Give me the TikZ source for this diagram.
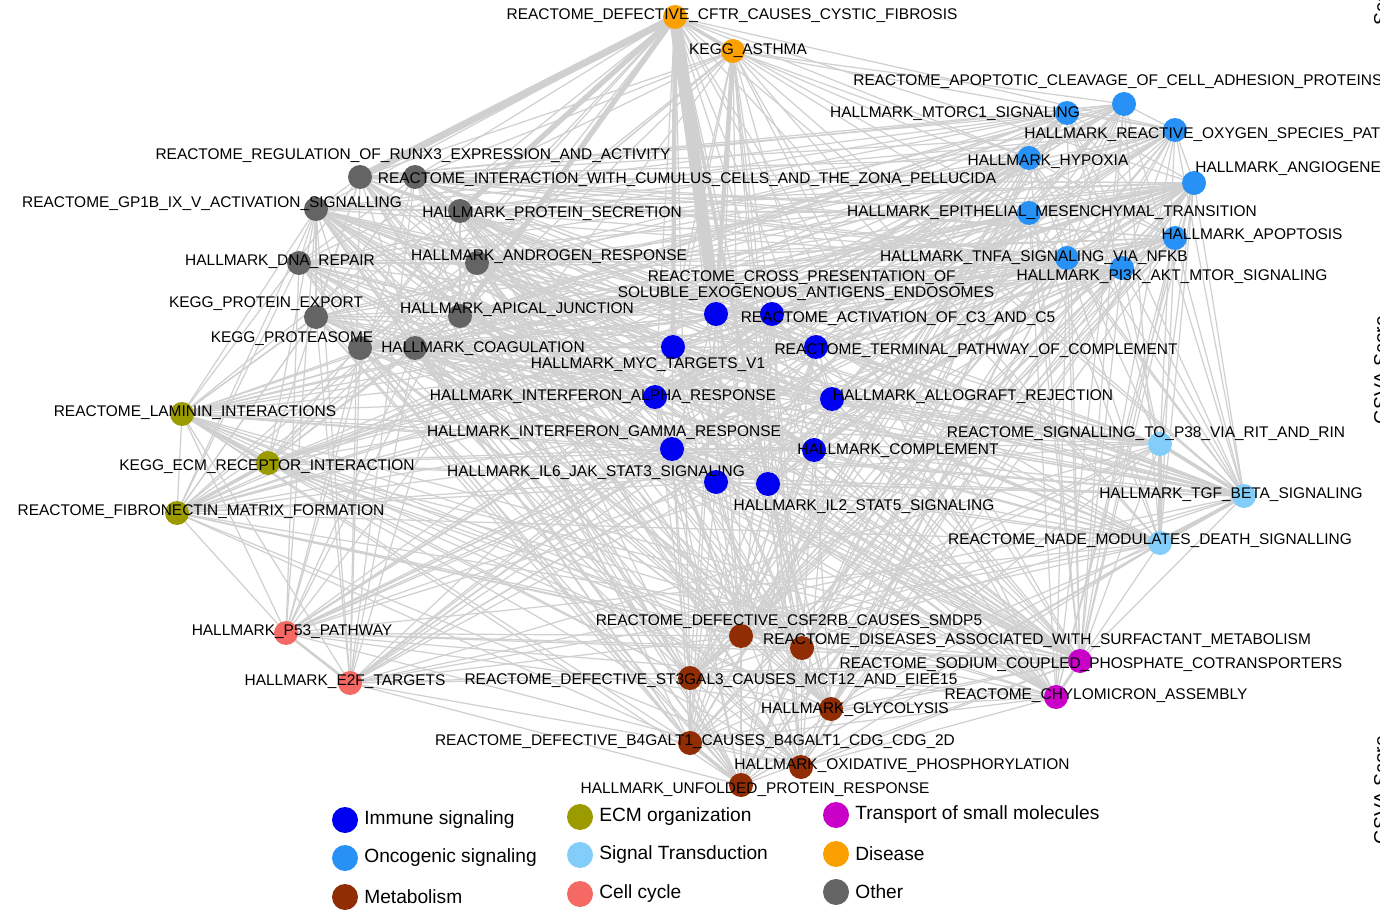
\documentclass[tikz,border=0pt]{standalone}
\usepackage{fontspec}
\setmainfont{Liberation Sans}
\usetikzlibrary{backgrounds}
\definecolor{cImm}{RGB}{0,0,240}
\definecolor{cOnc}{RGB}{40,145,245}
\definecolor{cMet}{RGB}{145,45,5}
\definecolor{cEcm}{RGB}{155,155,0}
\definecolor{cSig}{RGB}{130,205,250}
\definecolor{cCyc}{RGB}{245,105,100}
\definecolor{cTra}{RGB}{200,0,200}
\definecolor{cDis}{RGB}{250,160,0}
\definecolor{cOth}{RGB}{100,100,100}
\definecolor{cEdge}{RGB}{208,208,208}
\tikzset{
 dot/.style={circle,fill=#1,minimum size=24*0.02cm,inner sep=0pt},
 ldot/.style={circle,fill=#1,minimum size=26*0.02cm,inner sep=0pt},
 lab/.style={font=\fontsize{8.8}{10.5}\selectfont,inner sep=0pt},
 leg/.style={font=\fontsize{10.9}{13}\selectfont,inner sep=0pt,anchor=west},
 edge/.style={draw=cEdge,line width=0.7pt},
 thick edge/.style={draw=cEdge,line width=#1}
}
\begin{document}
\begin{tikzpicture}[x=0.02cm,y=-0.02cm]
\useasboundingbox (0,0) rectangle (1380,912);
% nodes
\foreach \n/\x/\y/\c in {
1/675/17/cDis,2/733/51/cDis,
3/1124/104/cOnc,4/1067/113/cOnc,5/1175/130/cOnc,6/1029/158/cOnc,7/1194/183/cOnc,8/1029/213/cOnc,9/1175/238/cOnc,10/1067/258/cOnc,11/1122/268/cOnc,
12/360/177/cOth,13/415/177/cOth,14/316/209/cOth,15/460/211/cOth,16/299/263/cOth,17/477/263/cOth,18/316/317/cOth,19/460/316/cOth,20/360/348/cOth,21/415/348/cOth,
22/716/314/cImm,23/772/314/cImm,24/673/347/cImm,25/816/347/cImm,26/655/397/cImm,27/832/399/cImm,28/672/449/cImm,29/814/450/cImm,30/716/482/cImm,31/768/484/cImm,
32/1160/444/cSig,33/1244/496/cSig,34/1160/543/cSig,
35/182/414/cEcm,36/268/463/cEcm,37/177/513/cEcm,
38/286/633/cCyc,39/350/683/cCyc,
40/741/636/cMet,41/802/648/cMet,42/690/678/cMet,43/831/709/cMet,44/690/743/cMet,45/801/767/cMet,46/741/785/cMet,
47/1080/661/cTra,48/1056/697/cTra}
{\node[dot=\c] (n\n) at (\x,\y) {};}
% edges
\begin{scope}[on background layer]
\foreach \i in {1,...,47}{
 \pgfmathtruncatemacro\s{\i+1}
 \foreach \j in {\s,...,48}{
  \pgfmathtruncatemacro\r{mod(\i*37+\j*91+\i*\j,7)}
  \ifnum\r<4 \draw[edge] (n\i.center) -- (n\j.center); \fi
 }}
\draw[thick edge=7pt] (n1.center) -- (n22.center);
\draw[thick edge=4pt] (n1.center) -- (n12.center);
\draw[thick edge=3pt] (n1.center) -- (n15.center);
\draw[thick edge=3pt] (n1.center) -- (n19.center);
\draw[thick edge=2.5pt] (n1.center) -- (n24.center);
\draw[thick edge=2.5pt] (n2.center) -- (n22.center);
\draw[thick edge=2pt] (n1.center) -- (n2.center);
\draw[thick edge=2pt] (n1.center) -- (n31.center);
\draw[thick edge=2.5pt] (n32.center) -- (n34.center);
\draw[thick edge=2pt] (n33.center) -- (n34.center);
\draw[thick edge=2pt] (n32.center) -- (n33.center);
\draw[thick edge=2pt] (n35.center) -- (n36.center);
\draw[thick edge=2pt] (n36.center) -- (n37.center);
\draw[thick edge=1.5pt] (n38.center) -- (n39.center);
\draw[thick edge=1.5pt] (n47.center) -- (n48.center);
\draw[thick edge=2pt] (n40.center) -- (n42.center);
\draw[thick edge=2pt] (n44.center) -- (n46.center);
\end{scope}
% labels
\node[lab] (l1) at (732,16) {REACTOME\_DEFECTIVE\_CFTR\_CAUSES\_CYSTIC\_FIBROSIS};
\node[lab] (l2) at (748,51) {KEGG\_ASTHMA};
\node[lab,anchor=west] (l3) at (853,82) {REACTOME\_APOPTOTIC\_CLEAVAGE\_OF\_CELL\_ADHESION\_PROTEINS};
\node[lab] (l4) at (955,114) {HALLMARK\_MTORC1\_SIGNALING};
\node[lab,anchor=west] (l5) at (1024,135) {HALLMARK\_REACTIVE\_OXYGEN\_SPECIES\_PATHWAY};
\node[lab] (l6) at (1048,162) {HALLMARK\_HYPOXIA};
\node[lab,anchor=west] (l7) at (1195,169) {HALLMARK\_ANGIOGENESIS};
\node[lab] (l8) at (1052,213) {HALLMARK\_EPITHELIAL\_MESENCHYMAL\_TRANSITION};
\node[lab] (l9) at (1252,236) {HALLMARK\_APOPTOSIS};
\node[lab] (l10) at (1034,258) {HALLMARK\_TNFA\_SIGNALING\_VIA\_NFKB};
\node[lab] (l11) at (1172,277) {HALLMARK\_PI3K\_AKT\_MTOR\_SIGNALING};
\node[lab] (l12) at (413,156) {REACTOME\_REGULATION\_OF\_RUNX3\_EXPRESSION\_AND\_ACTIVITY};
\node[lab] (l13) at (687,180) {REACTOME\_INTERACTION\_WITH\_CUMULUS\_CELLS\_AND\_THE\_ZONA\_PELLUCIDA};
\node[lab] (l14) at (212,204) {REACTOME\_GP1B\_IX\_V\_ACTIVATION\_SIGNALLING};
\node[lab] (l15) at (552,214) {HALLMARK\_PROTEIN\_SECRETION};
\node[lab] (l16) at (280,262) {HALLMARK\_DNA\_REPAIR};
\node[lab] (l17) at (549,257) {HALLMARK\_ANDROGEN\_RESPONSE};
\node[lab] (l18) at (266,304) {KEGG\_PROTEIN\_EXPORT};
\node[lab] (l19) at (517,310) {HALLMARK\_APICAL\_JUNCTION};
\node[lab] (l20) at (292,339) {KEGG\_PROTEASOME};
\node[lab] (l21) at (483,349) {HALLMARK\_COAGULATION};
\node[lab,align=center] (l22) at (806,286) {REACTOME\_CROSS\_PRESENTATION\_OF\_\\[-1.5pt]SOLUBLE\_EXOGENOUS\_ANTIGENS\_ENDOSOMES};
\node[lab] (l23) at (898,319) {REACTOME\_ACTIVATION\_OF\_C3\_AND\_C5};
\node[lab] (l24) at (648,365) {HALLMARK\_MYC\_TARGETS\_V1};
\node[lab] (l25) at (976,351) {REACTOME\_TERMINAL\_PATHWAY\_OF\_COMPLEMENT};
\node[lab] (l26) at (603,397) {HALLMARK\_INTERFERON\_ALPHA\_RESPONSE};
\node[lab] (l27) at (973,397) {HALLMARK\_ALLOGRAFT\_REJECTION};
\node[lab] (l28) at (604,433) {HALLMARK\_INTERFERON\_GAMMA\_RESPONSE};
\node[lab] (l29) at (898,451) {HALLMARK\_COMPLEMENT};
\node[lab] (l30) at (596,473) {HALLMARK\_IL6\_JAK\_STAT3\_SIGNALING};
\node[lab] (l31) at (864,507) {HALLMARK\_IL2\_STAT5\_SIGNALING};
\node[lab] (l32) at (1146,434) {REACTOME\_SIGNALLING\_TO\_P38\_VIA\_RIT\_AND\_RIN};
\node[lab] (l33) at (1231,495) {HALLMARK\_TGF\_BETA\_SIGNALING};
\node[lab] (l34) at (1150,541) {REACTOME\_NADE\_MODULATES\_DEATH\_SIGNALLING};
\node[lab] (l35) at (195,413) {REACTOME\_LAMININ\_INTERACTIONS};
\node[lab] (l36) at (267,467) {KEGG\_ECM\_RECEPTOR\_INTERACTION};
\node[lab] (l37) at (201,512) {REACTOME\_FIBRONECTIN\_MATRIX\_FORMATION};
\node[lab] (l38) at (292,632) {HALLMARK\_P53\_PATHWAY};
\node[lab] (l39) at (345,682) {HALLMARK\_E2F\_TARGETS};
\node[lab] (l40) at (789,622) {REACTOME\_DEFECTIVE\_CSF2RB\_CAUSES\_SMDP5};
\node[lab] (l41) at (1037,641) {REACTOME\_DISEASES\_ASSOCIATED\_WITH\_SURFACTANT\_METABOLISM};
\node[lab] (l42) at (711,681) {REACTOME\_DEFECTIVE\_ST3GAL3\_CAUSES\_MCT12\_AND\_EIEE15};
\node[lab] (l43) at (855,710) {HALLMARK\_GLYCOLYSIS};
\node[lab] (l44) at (695,742) {REACTOME\_DEFECTIVE\_B4GALT1\_CAUSES\_B4GALT1\_CDG\_CDG\_2D};
\node[lab] (l45) at (902,766) {HALLMARK\_OXIDATIVE\_PHOSPHORYLATION};
\node[lab] (l46) at (755,790) {HALLMARK\_UNFOLDED\_PROTEIN\_RESPONSE};
\node[lab] (l47) at (1091,665) {REACTOME\_SODIUM\_COUPLED\_PHOSPHATE\_COTRANSPORTERS};
\node[lab] (l48) at (1096,696) {REACTOME\_CHYLOMICRON\_ASSEMBLY};
% legend
\foreach \k/\x/\y/\c/\t in {
a/345/820/cImm/Immune signaling, b/345/858/cOnc/Oncogenic signaling, c/345/897/cMet/Metabolism,
d/580/817/cEcm/ECM organization, e/580/855/cSig/Signal Transduction, f/580/894/cCyc/Cell cycle,
g/836/815/cTra/Transport of small molecules, h/836/854/cDis/Disease, i/836/892/cOth/Other}
{\node[ldot=\c] (k\k) at (\x,\y) {};
 \node[leg] (t\k) at (\x+19,\y) {\t};}
% side axis titles (cut off at the edge, as in the reference)
\node[font=\fontsize{11}{13}\selectfont,rotate=90,anchor=north] (g1) at (1368,370) {GSVA Score};
\node[font=\fontsize{11}{13}\selectfont,rotate=90,anchor=north] (g2) at (1368,790) {GSVA Score};
\node[font=\fontsize{11}{13}\selectfont,rotate=90,anchor=north] (g3) at (1368,0) {Score};
\end{tikzpicture}
\end{document}
